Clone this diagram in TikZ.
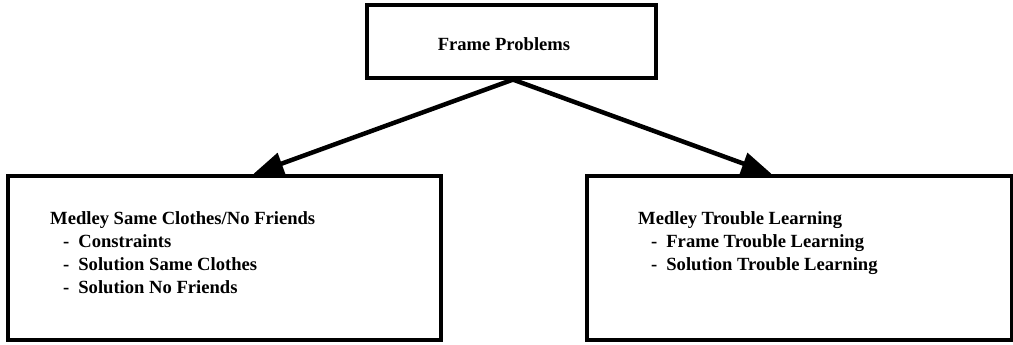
\documentclass[tikz,border=0pt]{standalone}
\usepackage{fontspec}
\setmainfont{Liberation Serif}
\usetikzlibrary{arrows.meta}
\tikzset{
  panel/.style={draw=black, line width=3.2pt, fill=white, inner sep=0pt},
  listtext/.style={anchor=north west, align=left, inner sep=0pt,
    font=\fontsize{18.6}{23}\selectfont\bfseries},
  link/.style={line width=4.5pt, -{Triangle[length=30pt,width=22pt]}, shorten >=1.5pt},
}
\begin{document}
\begin{tikzpicture}[x=1pt,y=-1pt]
  \useasboundingbox (0,0) rectangle (1013,345);

  % boxes
  \node[panel, minimum width=289pt, minimum height=73pt] (top) at (511.5,41.5) {};
  \node[panel, minimum width=433pt, minimum height=164pt] (left) at (224.5,258) {};
  \node[panel, minimum width=425pt, minimum height=164pt] (right) at (799.5,258) {};

  % labels
  \node[font=\fontsize{18.6}{23}\selectfont\bfseries, inner sep=0pt] (toplabel) at (504,44) {Frame Problems};
  \node[listtext] (lefttext) at (50,211) {%
    Medley Same Clothes/No Friends\\
    \hspace{13pt}-\hspace{9pt}Constraints\\
    \hspace{13pt}-\hspace{9pt}Solution Same Clothes\\
    \hspace{13pt}-\hspace{9pt}Solution No Friends};
  \node[listtext] (righttext) at (638,211) {%
    Medley Trouble Learning\\
    \hspace{13pt}-\hspace{9pt}Frame Trouble Learning\\
    \hspace{13pt}-\hspace{9pt}Solution Trouble Learning};

  % connectors
  \coordinate (fork) at (top.south -| 513,0);
  \coordinate (lefttip) at (left.north -| 252,0);
  \coordinate (righttip) at (right.north -| 773,0);
  \draw[link] (fork) -- (lefttip);
  \draw[link] (fork) -- (righttip);
\end{tikzpicture}
\end{document}
